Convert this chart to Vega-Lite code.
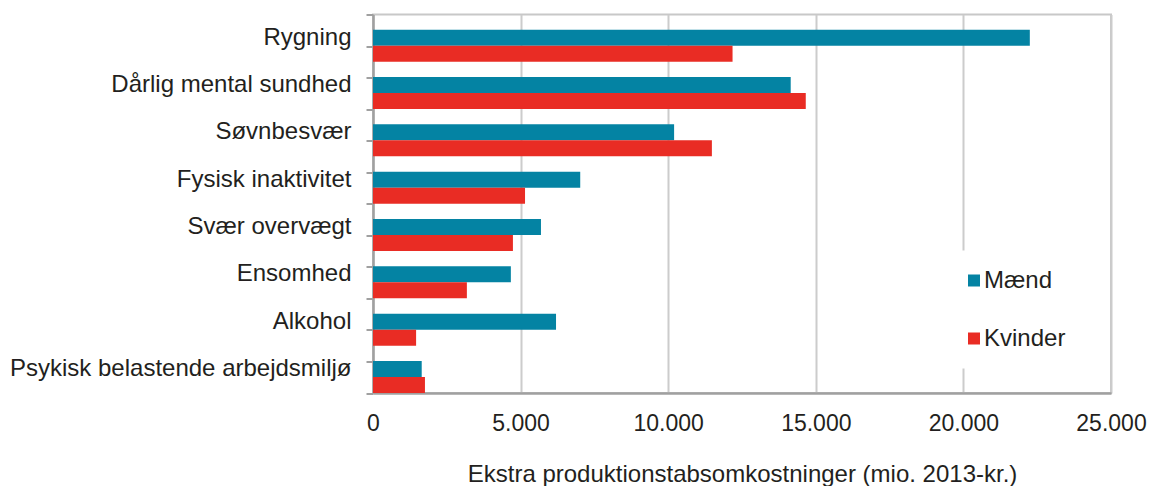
{
  "$schema": "https://vega.github.io/schema/vega-lite/v6.json",
  "width": 738,
  "height": 378.5,
  "autosize": {"type": "none"},
  "padding": {"left": 373, "top": 14.5, "right": 39, "bottom": 93},
  "background": "white",
  "config": {
    "font": "Liberation Sans",
    "view": {"stroke": "#c8c8c8", "strokeWidth": 2}
  },
  "data": {
    "values": [
      {"risiko": "Rygning", "koen": "Mænd", "v": 22250},
      {"risiko": "Rygning", "koen": "Kvinder", "v": 12180},
      {"risiko": "Dårlig mental sundhed", "koen": "Mænd", "v": 14150},
      {"risiko": "Dårlig mental sundhed", "koen": "Kvinder", "v": 14660},
      {"risiko": "Søvnbesvær", "koen": "Mænd", "v": 10200},
      {"risiko": "Søvnbesvær", "koen": "Kvinder", "v": 11480},
      {"risiko": "Fysisk inaktivitet", "koen": "Mænd", "v": 7020},
      {"risiko": "Fysisk inaktivitet", "koen": "Kvinder", "v": 5150},
      {"risiko": "Svær overvægt", "koen": "Mænd", "v": 5690},
      {"risiko": "Svær overvægt", "koen": "Kvinder", "v": 4740},
      {"risiko": "Ensomhed", "koen": "Mænd", "v": 4670},
      {"risiko": "Ensomhed", "koen": "Kvinder", "v": 3180},
      {"risiko": "Alkohol", "koen": "Mænd", "v": 6200},
      {"risiko": "Alkohol", "koen": "Kvinder", "v": 1460},
      {"risiko": "Psykisk belastende arbejdsmiljø", "koen": "Mænd", "v": 1650},
      {"risiko": "Psykisk belastende arbejdsmiljø", "koen": "Kvinder", "v": 1760}
    ]
  },
  "layer": [
    {
      "mark": {"type": "bar", "cornerRadius": 0},
      "encoding": {
        "y": {
          "field": "risiko",
          "type": "nominal",
          "sort": null,
          "scale": {"paddingInner": 0.324, "paddingOuter": 0.16, "align": 1},
          "axis": {
            "orient": "left",
            "title": null,
            "domain": false,
            "ticks": false,
            "tickSize": 0,
            "labelPadding": 22,
            "labelOffset": -8,
            "labelFontSize": 24,
            "labelColor": "#231f20",
            "labelFont": "Liberation Sans",
            "labelLimit": 400
          }
        },
        "yOffset": {
          "field": "koen",
          "type": "nominal",
          "sort": ["Mænd", "Kvinder"],
          "scale": {"paddingInner": 0, "paddingOuter": 0}
        },
        "x": {
          "field": "v",
          "type": "quantitative",
          "scale": {"domain": [0, 25000], "nice": false},
          "axis": {
            "values": [0, 5000, 10000, 15000, 20000, 25000],
            "labelExpr": "replace(format(datum.value, ','), ',', '.')",
            "title": "Ekstra produktionstabsomkostninger (mio. 2013-kr.)",
            "titleFontSize": 24,
            "titleFontWeight": "normal",
            "titleColor": "#231f20",
            "titleFont": "Liberation Sans",
            "titlePadding": 27,
            "labelFontSize": 23,
            "labelColor": "#231f20",
            "labelPadding": 19,
            "labelFlush": false,
            "ticks": false,
            "grid": true,
            "gridColor": "#cccccc",
            "gridWidth": 2,
            "domainColor": "#a0a0a0",
            "domainWidth": 2.5
          }
        },
        "color": {
          "field": "koen",
          "type": "nominal",
          "scale": {"domain": ["Mænd", "Kvinder"], "range": ["#0483a3", "#e92c24"]},
          "legend": {
            "title": null,
            "orient": "none",
            "legendX": 571,
            "legendY": 236,
            "padding": 18,
            "fillColor": "white",
            "symbolType": "square",
            "symbolSize": 144,
            "symbolStrokeWidth": 0,
            "labelFontSize": 24,
            "labelColor": "#231f20",
            "labelOffset": -2,
            "rowPadding": 34
          }
        }
      }
    },
    {
      "mark": {"type": "point", "opacity": 0},
      "encoding": {
        "y": {
          "datum": 0,
          "type": "quantitative",
          "scale": {"domain": [0, 12], "nice": false, "zero": false},
          "axis": {
            "orient": "left",
            "title": null,
            "labels": false,
            "grid": false,
            "values": [0, 1, 2, 3, 4, 5, 6, 7, 8, 9, 10, 11, 12],
            "ticks": true,
            "tickSize": 7,
            "tickWidth": 2,
            "tickColor": "#a0a0a0",
            "domainColor": "#a0a0a0",
            "domainWidth": 2.5
          }
        }
      }
    }
  ],
  "resolve": {"scale": {"y": "independent"}, "axis": {"y": "independent"}}
}
